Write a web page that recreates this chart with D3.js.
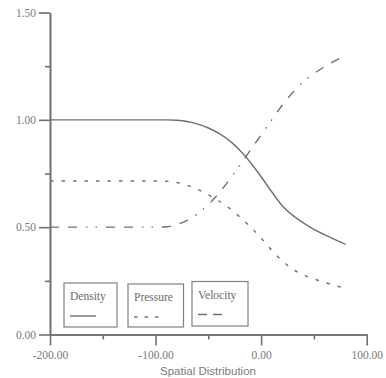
<!DOCTYPE html>
<html>
<head>
<meta charset="utf-8">
<script src="https://cdn.jsdelivr.net/npm/d3@7"></script>
<style>
  html, body { margin: 0; padding: 0; background: #fff; }
  svg { display: block; }
  .tick text { font-family: "Liberation Serif", "Times New Roman", serif; font-size: 11.5px; fill: #7a7a7a; }
</style>
</head>
<body>
<svg id="chart" width="386" height="378"></svg>
<script>
// Sampled profiles along the spatial coordinate
const positions = [-200, -100, -90, -80, -70, -60, -50, -40, -30, -20, -10, 0, 10, 20, 30, 40, 50, 60, 70, 80];
const density   = [1.0, 1.0, 1.0, 0.998, 0.992, 0.98, 0.962, 0.937, 0.903, 0.857, 0.80, 0.735, 0.665, 0.60, 0.555, 0.52, 0.49, 0.465, 0.442, 0.42];
const pressure  = [0.715, 0.715, 0.714, 0.708, 0.695, 0.676, 0.651, 0.622, 0.588, 0.547, 0.50, 0.449, 0.393, 0.343, 0.304, 0.278, 0.259, 0.243, 0.228, 0.215];
const velocity  = [0.5, 0.5, 0.502, 0.512, 0.532, 0.563, 0.605, 0.658, 0.722, 0.79, 0.86, 0.93, 1.0, 1.068, 1.128, 1.177, 1.215, 1.248, 1.275, 1.30];

const xMajorTicks = [-200, -100, 0, 100];
const xMinorTicks = [-150, -50, 50];
const yMajorTicks = [0, 0.5, 1.0, 1.5];
const yMinorTicks = [0.25, 0.75, 1.25];
const seriesNames = ["Density", "Pressure", "Velocity"];
const xTitle = "Spatial Distribution";

const ink = "#707070";
const svg = d3.select("#chart");

// Two-decimal labels with a plain hyphen for negatives
const fmt = d3.formatLocale({ decimal: ".", thousands: ",", grouping: [3], currency: ["", ""], minus: "-" }).format(".2f");

const x = d3.scaleLinear().domain([-200, 100]).range([50, 366.7]);
const y = d3.scaleLinear().domain([0, 1.5]).range([334.5, 12.5]);

// Axes: major ticks with labels, minor ticks shorter and unlabeled
function styleAxis(g) {
  g.selectAll("path.domain").attr("stroke", ink).attr("stroke-width", 1.6);
  g.selectAll(".tick line").attr("stroke", ink).attr("stroke-width", 1.6);
}

svg.append("g")
  .attr("transform", `translate(0,${y(0)})`)
  .call(d3.axisBottom(x).tickValues(xMinorTicks).tickSize(5).tickSizeOuter(0).tickFormat(""))
  .call(styleAxis);
svg.append("g")
  .attr("transform", `translate(0,${y(0)})`)
  .call(d3.axisBottom(x).tickValues(xMajorTicks).tickSize(11).tickSizeOuter(0).tickPadding(5).tickFormat(fmt))
  .call(styleAxis);

svg.append("g")
  .attr("transform", `translate(${x(-200)},0)`)
  .call(d3.axisLeft(y).tickValues(yMinorTicks).tickSize(5).tickSizeOuter(0).tickFormat(""))
  .call(styleAxis);
svg.append("g")
  .attr("transform", `translate(${x(-200)},0)`)
  .call(d3.axisLeft(y).tickValues(yMajorTicks).tickSize(11).tickSizeOuter(0).tickPadding(3).tickFormat(fmt))
  .call(styleAxis);

svg.append("text")
  .attr("x", 208).attr("y", 375)
  .attr("text-anchor", "middle")
  .attr("font-family", "Liberation Sans, Arial, sans-serif")
  .attr("font-size", 11.5)
  .attr("fill", "#7a7a7a")
  .text(xTitle);

// Curves
const dashes = ["none", "3.5,8", "9,9,9,9,1.5,8,1.5,9"];
const allSeries = [density, pressure, velocity];
const line = d3.line()
  .x((d, i) => x(positions[i]))
  .y(d => y(d))
  .curve(d3.curveMonotoneX);

allSeries.forEach((vals, k) => {
  svg.append("path")
    .datum(vals)
    .attr("d", line)
    .attr("fill", "none")
    .attr("stroke", ink)
    .attr("stroke-width", 1.4)
    .attr("stroke-dasharray", dashes[k]);
});

// Legend: one boxed entry per series
const boxes = [
  { x: 64, y: 283, w: 53, h: 44 },
  { x: 128, y: 284, w: 55.5, h: 43 },
  { x: 192, y: 281.5, w: 56, h: 44.5 }
];
const legendDash = ["none", "3.5,7", "9,6"];
seriesNames.forEach((name, k) => {
  const b = boxes[k];
  const g = svg.append("g");
  g.append("rect")
    .attr("x", b.x).attr("y", b.y).attr("width", b.w).attr("height", b.h)
    .attr("fill", "#fff").attr("stroke", "#808080").attr("stroke-width", 1.2);
  g.append("text")
    .attr("x", b.x + 6).attr("y", b.y + 17)
    .attr("font-family", "Liberation Serif, Times New Roman, serif")
    .attr("font-size", 11.5)
    .attr("fill", "#6a6a6a")
    .text(name);
  g.append("line")
    .attr("x1", b.x + 6).attr("x2", b.x + 32)
    .attr("y1", b.y + 33).attr("y2", b.y + 33)
    .attr("stroke", ink).attr("stroke-width", 1.4)
    .attr("stroke-dasharray", legendDash[k]);
});
</script>
</body>
</html>
